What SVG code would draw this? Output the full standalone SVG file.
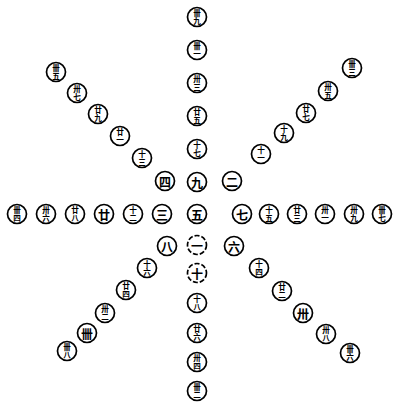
<svg xmlns="http://www.w3.org/2000/svg" width="397" height="411" viewBox="0 0 397 411">
<style>
.c{fill:#fff;stroke:#000;stroke-width:1.7}
.d{stroke-dasharray:5 2}
.s{font-family:"Noto Sans CJK SC","Noto Sans CJK TC",sans-serif;font-size:12px;font-weight:700;fill:#000;text-anchor:middle;dominant-baseline:central}
.t{font-family:"Noto Sans CJK SC","Noto Sans CJK TC",sans-serif;font-size:7.6px;font-weight:700;fill:#000;text-anchor:middle;writing-mode:vertical-rl;text-orientation:upright;letter-spacing:-0.3px}
</style>
<rect width="397" height="411" fill="#fff"/>
<g id="connectors"/>
<g id="n5"><circle class="c" cx="197" cy="214" r="9.5"/><text class="s" x="197" y="214">五</text></g>
<g id="n9"><circle class="c" cx="197" cy="182" r="9.5"/><text class="s" x="197" y="182">九</text></g>
<g id="n17"><circle class="c" cx="197" cy="149" r="9.5"/><text class="t" x="197" y="149">十七</text></g>
<g id="n25"><circle class="c" cx="197" cy="116" r="9.5"/><text class="t" x="197" y="116">廿五</text></g>
<g id="n33"><circle class="c" cx="197" cy="83" r="9.5"/><text class="t" x="197" y="83">卅三</text></g>
<g id="n41"><circle class="c" cx="197" cy="50" r="9.5"/><text class="t" x="197" y="50">卌一</text></g>
<g id="n49"><circle class="c" cx="197" cy="17" r="9.5"/><text class="t" x="197" y="17">卌九</text></g>
<g id="n1"><circle class="c d" cx="197" cy="245" r="9.5"/><text class="s" x="197" y="245">一</text></g>
<g id="n10"><circle class="c d" cx="197" cy="273" r="9.5"/><text class="s" x="197" y="273">十</text></g>
<g id="n18"><circle class="c" cx="197" cy="303" r="9.5"/><text class="t" x="197" y="303">十八</text></g>
<g id="n26"><circle class="c" cx="197" cy="333" r="9.5"/><text class="t" x="197" y="333">廿六</text></g>
<g id="n34"><circle class="c" cx="197" cy="362" r="9.5"/><text class="t" x="197" y="362">卅四</text></g>
<g id="n42"><circle class="c" cx="197" cy="391" r="9.5"/><text class="t" x="197" y="391">卌二</text></g>
<g id="n3"><circle class="c" cx="162" cy="214" r="9.5"/><text class="s" x="162" y="214">三</text></g>
<g id="n12"><circle class="c" cx="133" cy="214" r="9.5"/><text class="t" x="133" y="214">十二</text></g>
<g id="n20"><circle class="c" cx="104" cy="214" r="9.5"/><text class="s" x="104" y="214">廿</text></g>
<g id="n28"><circle class="c" cx="75" cy="214" r="9.5"/><text class="t" x="75" y="214">廿八</text></g>
<g id="n36"><circle class="c" cx="46" cy="214" r="9.5"/><text class="t" x="46" y="214">卅六</text></g>
<g id="n44"><circle class="c" cx="17" cy="214" r="9.5"/><text class="t" x="17" y="214">卌四</text></g>
<g id="n7"><circle class="c" cx="242" cy="214" r="9.5"/><text class="s" x="242" y="214">七</text></g>
<g id="n15"><circle class="c" cx="269" cy="214" r="9.5"/><text class="t" x="269" y="214">十五</text></g>
<g id="n23"><circle class="c" cx="297" cy="214" r="9.5"/><text class="t" x="297" y="214">廿三</text></g>
<g id="n31"><circle class="c" cx="325" cy="214" r="9.5"/><text class="t" x="325" y="214">卅一</text></g>
<g id="n39"><circle class="c" cx="354" cy="214" r="9.5"/><text class="t" x="354" y="214">卅九</text></g>
<g id="n47"><circle class="c" cx="382" cy="214" r="9.5"/><text class="t" x="382" y="214">卌七</text></g>
<g id="n4"><circle class="c" cx="165" cy="181" r="9.5"/><text class="s" x="165" y="181">四</text></g>
<g id="n13"><circle class="c" cx="142" cy="158" r="9.5"/><text class="t" x="142" y="158">十三</text></g>
<g id="n21"><circle class="c" cx="120" cy="136" r="9.5"/><text class="t" x="120" y="136">廿一</text></g>
<g id="n29"><circle class="c" cx="98" cy="114" r="9.5"/><text class="t" x="98" y="114">廿九</text></g>
<g id="n37"><circle class="c" cx="77" cy="93" r="9.5"/><text class="t" x="77" y="93">卅七</text></g>
<g id="n45"><circle class="c" cx="56" cy="72" r="9.5"/><text class="t" x="56" y="72">卌五</text></g>
<g id="n2"><circle class="c" cx="232" cy="181" r="9.5"/><text class="s" x="232" y="181">二</text></g>
<g id="n11"><circle class="c" cx="261" cy="154" r="9.5"/><text class="t" x="261" y="154">十一</text></g>
<g id="n19"><circle class="c" cx="284" cy="133" r="9.5"/><text class="t" x="284" y="133">十九</text></g>
<g id="n27"><circle class="c" cx="306" cy="113" r="9.5"/><text class="t" x="306" y="113">廿七</text></g>
<g id="n35"><circle class="c" cx="328" cy="91" r="9.5"/><text class="t" x="328" y="91">卅五</text></g>
<g id="n43"><circle class="c" cx="352" cy="68" r="9.5"/><text class="t" x="352" y="68">卌三</text></g>
<g id="n8"><circle class="c" cx="167" cy="246" r="9.5"/><text class="s" x="167" y="246">八</text></g>
<g id="n16"><circle class="c" cx="147" cy="268" r="9.5"/><text class="t" x="147" y="268">十六</text></g>
<g id="n24"><circle class="c" cx="126" cy="290" r="9.5"/><text class="t" x="126" y="290">廿四</text></g>
<g id="n32"><circle class="c" cx="105" cy="313" r="9.5"/><text class="t" x="105" y="313">卅二</text></g>
<g id="n40"><circle class="c" cx="87" cy="333" r="9.5"/><text class="s" x="87" y="333">卌</text></g>
<g id="n48"><circle class="c" cx="67" cy="351" r="9.5"/><text class="t" x="67" y="351">卌八</text></g>
<g id="n6"><circle class="c" cx="234" cy="246" r="9.5"/><text class="s" x="234" y="246">六</text></g>
<g id="n14"><circle class="c" cx="259" cy="268" r="9.5"/><text class="t" x="259" y="268">十四</text></g>
<g id="n22"><circle class="c" cx="282" cy="291" r="9.5"/><text class="t" x="282" y="291">廿二</text></g>
<g id="n30"><circle class="c" cx="303" cy="313" r="9.5"/><text class="s" x="303" y="313">卅</text></g>
<g id="n38"><circle class="c" cx="326" cy="334" r="9.5"/><text class="t" x="326" y="334">卅八</text></g>
<g id="n46"><circle class="c" cx="350" cy="353" r="9.5"/><text class="t" x="350" y="353">卌六</text></g>
</svg>
